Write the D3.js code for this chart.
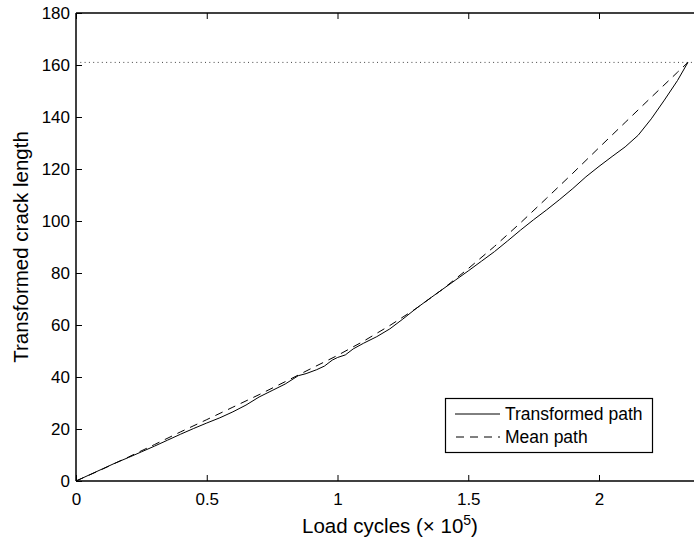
<!DOCTYPE html>
<html>
<head>
<meta charset="utf-8">
<script src="https://cdn.jsdelivr.net/npm/d3@7"></script>
<style>
  html, body { margin: 0; padding: 0; background: #fff; }
  svg { display: block; }
  text { font-family: "Liberation Sans", Arial, Helvetica, sans-serif; fill: #000; }
</style>
</head>
<body>
<svg id="chart" width="694" height="541"></svg>
<script>
// ---- data ----
const xTicks = [0, 0.5, 1, 1.5, 2];
const xTickLabels = ["0", "0.5", "1", "1.5", "2"];
const yTicks = [0, 20, 40, 60, 80, 100, 120, 140, 160, 180];
const yTickLabels = ["0", "20", "40", "60", "80", "100", "120", "140", "160", "180"];

const transformedX = [0, 0.05, 0.1, 0.15, 0.2, 0.25, 0.3, 0.35, 0.4, 0.45, 0.5, 0.55, 0.6, 0.65, 0.7, 0.75, 0.8, 0.85, 0.88, 0.92, 0.95, 0.98, 1.0, 1.03, 1.06, 1.1, 1.15, 1.2, 1.25, 1.3, 1.35, 1.4, 1.45, 1.5, 1.55, 1.6, 1.65, 1.7, 1.75, 1.8, 1.85, 1.9, 1.95, 2.0, 2.05, 2.1, 2.15, 2.2, 2.25, 2.3, 2.34];
const transformedY = [0, 2.3, 4.6, 6.9, 9.0, 11.2, 13.4, 15.7, 18.0, 20.2, 22.3, 24.3, 26.6, 29.2, 32.3, 34.8, 37.3, 40.5, 41.3, 42.8, 44.2, 46.5, 47.5, 48.5, 50.8, 53.0, 55.5, 58.5, 62.3, 66.3, 70.0, 73.6, 77.2, 80.8, 84.5, 88.2, 92.3, 96.5, 100.5, 104.3, 108.3, 112.5, 117.0, 121.0, 124.8, 128.5, 133.0, 139.3, 146.5, 154.0, 161.0];

const meanX = [0, 0.1, 0.2, 0.3, 0.4, 0.5, 0.6, 0.7, 0.8, 0.9, 1.0, 1.1, 1.2, 1.3, 1.4, 1.5, 1.6, 1.7, 1.8, 1.9, 2.0, 2.1, 2.2, 2.3, 2.34];
const meanY = [0, 4.5, 9.2, 14.0, 18.9, 23.6, 28.4, 33.2, 38.2, 43.3, 48.3, 53.8, 59.8, 66.3, 73.6, 81.7, 90.2, 99.3, 108.8, 118.4, 128.2, 137.9, 147.6, 157.2, 161.0];

const thresholdY = 161;
const seriesNames = ["Transformed path", "Mean path"];

// ---- layout ----
const svg = d3.select("#chart");
const axLeft = 76, axTop = 13, axBottom = 481;
const xMax = 2.4;
const pxPerUnit = 261.5;
const axRight = axLeft + xMax * pxPerUnit;

svg.append("rect").attr("width", 694).attr("height", 541).attr("fill", "#fff");

const x = d3.scaleLinear().domain([0, xMax]).range([axLeft, axRight]);
const y = d3.scaleLinear().domain([0, 180]).range([axBottom, axTop]);

const tickLen = 6;
const fontTick = "17px";

// bottom axis
const xAxis = d3.axisBottom(x).tickValues(xTicks)
  .tickFormat((d, i) => xTickLabels[i])
  .tickSizeInner(-tickLen).tickSizeOuter(0).tickPadding(12);
const gx = svg.append("g").attr("transform", `translate(0,${axBottom})`).call(xAxis);
gx.select(".domain").remove();
gx.selectAll("text").style("font-size", fontTick).attr("dy", "0.71em").attr("y", 12);

// top axis ticks
const gxt = svg.append("g").attr("transform", `translate(0,${axTop})`)
  .call(d3.axisTop(x).tickValues(xTicks).tickFormat("").tickSizeInner(-tickLen).tickSizeOuter(0));
gxt.select(".domain").remove();

// left axis
const yAxis = d3.axisLeft(y).tickValues(yTicks)
  .tickFormat((d, i) => yTickLabels[i])
  .tickSizeInner(-tickLen).tickSizeOuter(0).tickPadding(12);
const gy = svg.append("g").attr("transform", `translate(${axLeft},0)`).call(yAxis);
gy.select(".domain").remove();
gy.selectAll("text").style("font-size", fontTick).attr("x", -6);

svg.selectAll(".tick line").attr("stroke", "#000").attr("stroke-width", 1);

// axes box (right edge falls outside the picture)
svg.append("line").attr("x1", axLeft).attr("x2", axRight).attr("y1", axBottom).attr("y2", axBottom)
  .attr("stroke", "#000").attr("stroke-width", 1.5);
svg.append("line").attr("x1", axLeft).attr("x2", axRight).attr("y1", axTop).attr("y2", axTop)
  .attr("stroke", "#000").attr("stroke-width", 1.3);
svg.append("line").attr("x1", axLeft).attr("x2", axLeft).attr("y1", axTop).attr("y2", axBottom)
  .attr("stroke", "#000").attr("stroke-width", 1.5);

// threshold dotted line
svg.append("line").attr("x1", x(0)).attr("x2", axRight)
  .attr("y1", y(thresholdY)).attr("y2", y(thresholdY))
  .attr("stroke", "#444").attr("stroke-width", 1).attr("stroke-dasharray", "1,3.3");

// lines
const line = d3.line().x(d => x(d[0])).y(d => y(d[1]));
const tData = transformedX.map((v, i) => [v, transformedY[i]]);
const mData = meanX.map((v, i) => [v, meanY[i]]);

svg.append("path").datum(mData).attr("d", line)
  .attr("fill", "none").attr("stroke", "#000").attr("stroke-width", 1)
  .attr("stroke-dasharray", "8,6");
svg.append("path").datum(tData).attr("d", line)
  .attr("fill", "none").attr("stroke", "#000").attr("stroke-width", 1);

// legend
const lg = svg.append("g");
lg.append("rect").attr("x", 445.5).attr("y", 398.5).attr("width", 207).attr("height", 54)
  .attr("fill", "#fff").attr("stroke", "#000").attr("stroke-width", 1.2);
const rows = [{name: seriesNames[0], dash: null, cy: 414}, {name: seriesNames[1], dash: "8,6", cy: 437}];
rows.forEach(r => {
  const l = lg.append("line").attr("x1", 455).attr("x2", 500).attr("y1", r.cy).attr("y2", r.cy)
    .attr("stroke", "#000").attr("stroke-width", 1);
  if (r.dash) l.attr("stroke-dasharray", r.dash).attr("stroke-dashoffset", -1);
  lg.append("text").attr("x", 505).attr("y", r.cy + 6).style("font-size", "17.5px").text(r.name);
});

// axis labels
const xl = svg.append("text").attr("x", 390).attr("y", 533).attr("text-anchor", "middle")
  .style("font-size", "20.5px");
xl.append("tspan").text("Load cycles (\u00D7 10");
xl.append("tspan").attr("dy", -8).style("font-size", "14px").text("5");
xl.append("tspan").attr("dy", 8).text(")");

svg.append("text").attr("transform", "translate(28,247) rotate(-90)")
  .attr("text-anchor", "middle").style("font-size", "20.5px").text("Transformed crack length");
</script>
</body>
</html>
